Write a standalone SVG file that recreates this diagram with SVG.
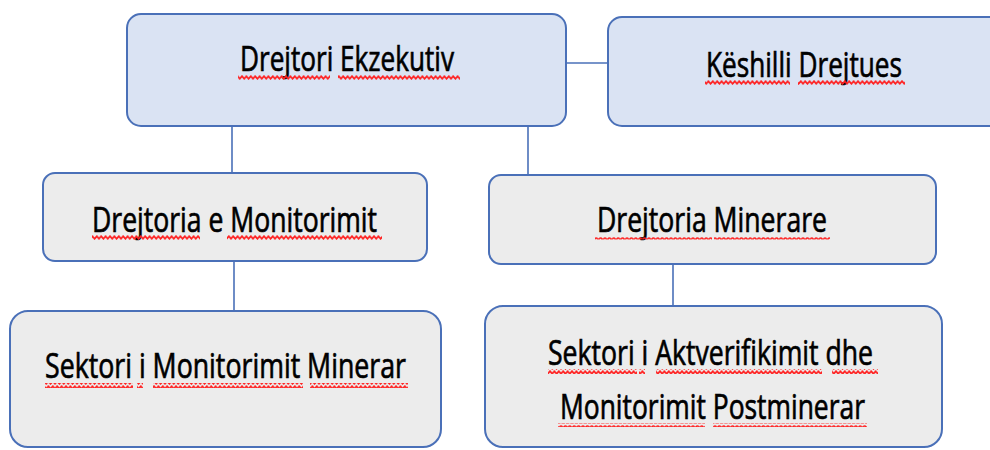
<svg xmlns="http://www.w3.org/2000/svg" width="990" height="450" viewBox="0 0 990 450">
  <defs>
    <pattern id="wavy" x="0" y="0" width="4.4" height="5" patternUnits="userSpaceOnUse">
      <path d="M-1.1,2.5 L0,1.2 L2.2,3.8 L4.4,1.2 L5.5,2.5" fill="none" stroke="#ff2020" stroke-width="1.7"/>
    </pattern>
    <pattern id="arch" x="0" y="0" width="4.4" height="4" patternUnits="userSpaceOnUse">
      <path d="M0.4,3.4 Q2.2,0.4 4,3.4" fill="none" stroke="#ff2020" stroke-width="1.5"/>
    </pattern>
  </defs>
  <style>
    .blue { fill: #dae3f3; stroke: #4a70b8; stroke-width: 2; }
    .grey { fill: #ececec; stroke: #4a70b8; stroke-width: 2; }
    .lbl { font-family: "Open Sans", "Liberation Sans", sans-serif; font-size: 35px; fill: #000; stroke: #000; stroke-width: 0.7; }
    .conn line { stroke: #4a70b8; stroke-width: 1.6; }
    .wv { fill: url(#wavy); }
    .ar { fill: url(#arch); }
  </style>
  <rect width="990" height="450" fill="#ffffff"/>

  <g id="connectors" class="conn">
    <line x1="566" y1="63" x2="608" y2="63"/>
    <line x1="232" y1="113" x2="232" y2="173"/>
    <line x1="528" y1="118" x2="528" y2="175"/>
    <line x1="234" y1="261" x2="234" y2="311"/>
    <line x1="673" y1="264" x2="673" y2="306"/>
  </g>

  <g id="drejtori-ekzekutiv">
    <rect class="blue" x="127" y="14" width="439" height="112" rx="14"/>
    <text class="lbl" x="240" y="71" textLength="214" lengthAdjust="spacingAndGlyphs">Drejtori Ekzekutiv</text>
    <rect class="wv" x="238" y="75" width="92" height="5"/>
    <rect class="wv" x="338" y="75" width="122" height="5"/>
  </g>

  <g id="keshilli-drejtues">
    <rect class="blue" x="608" y="17" width="400" height="109" rx="14"/>
    <text class="lbl" x="706" y="77" textLength="196" lengthAdjust="spacingAndGlyphs">Këshilli Drejtues</text>
    <rect class="wv" x="705" y="80" width="85" height="5"/>
    <rect class="wv" x="798" y="80" width="107" height="5"/>
  </g>

  <g id="drejtoria-monitorimit">
    <rect class="grey" x="43" y="173" width="384" height="88" rx="12"/>
    <text class="lbl" x="92" y="232" textLength="285" lengthAdjust="spacingAndGlyphs">Drejtoria e Monitorimit</text>
    <rect class="wv" x="92" y="235" width="108" height="5"/>
    <rect class="wv" x="227" y="235" width="155" height="5"/>
  </g>

  <g id="drejtoria-minerare">
    <rect class="grey" x="489" y="175" width="447" height="89" rx="12"/>
    <text class="lbl" x="597" y="232" textLength="230" lengthAdjust="spacingAndGlyphs">Drejtoria Minerare</text>
    <rect class="ar" x="595" y="236" width="117" height="4"/>
    <rect class="ar" x="714" y="236" width="116" height="4"/>
  </g>

  <g id="sektori-monitorimit-minerar">
    <rect class="grey" x="10" y="311" width="431" height="136" rx="18"/>
    <text class="lbl" x="45" y="378" textLength="361" lengthAdjust="spacingAndGlyphs">Sektori i Monitorimit Minerar</text>
    <rect class="wv" x="45" y="383" width="88" height="5"/>
    <rect class="wv" x="137" y="383" width="6" height="5"/>
    <rect class="wv" x="153" y="383" width="150" height="5"/>
    <rect class="wv" x="310" y="383" width="98" height="5"/>
  </g>

  <g id="sektori-aktverifikimit">
    <rect class="grey" x="485" y="306" width="457" height="141" rx="18"/>
    <text class="lbl" x="548" y="365" textLength="325" lengthAdjust="spacingAndGlyphs">Sektori i Aktverifikimit dhe</text>
    <rect class="wv" x="548" y="369" width="89" height="5"/>
    <rect class="wv" x="639" y="369" width="6" height="5"/>
    <rect class="wv" x="656" y="369" width="166" height="5"/>
    <rect class="wv" x="832" y="369" width="46" height="5"/>
    <text class="lbl" x="560" y="419" textLength="305" lengthAdjust="spacingAndGlyphs">Monitorimit Postminerar</text>
    <rect class="ar" x="558" y="423" width="147" height="4"/>
    <rect class="ar" x="713" y="423" width="154" height="4"/>
  </g>
</svg>
